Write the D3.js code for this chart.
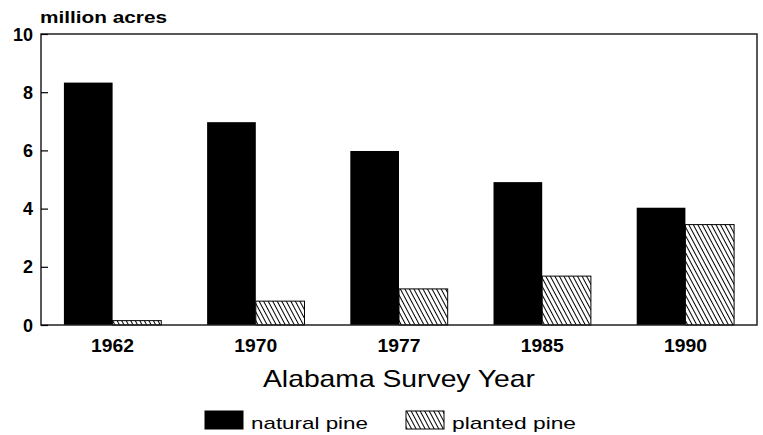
<!DOCTYPE html>
<html>
<head>
<meta charset="utf-8">
<script src="https://cdn.jsdelivr.net/npm/d3@7"></script>
<style>
  body { margin: 0; background: #fff; overflow: hidden; }
  svg { display: block; }
  text { font-family: "Liberation Sans", Arial, sans-serif; fill: #000; }
</style>
</head>
<body>
<script>
// data
var years = ["1962", "1970", "1977", "1985", "1990"];
var naturalPine = [8.33, 6.97, 5.98, 4.91, 4.03];
var plantedPine = [0.15, 0.82, 1.24, 1.68, 3.45];
var yTicks = [0, 2, 4, 6, 8, 10];
var seriesNames = ["natural pine", "planted pine"];

var chartW = 763, chartH = 435;
var plotLeft = 41, plotRight = 757, plotTop = 34, plotBottom = 325;

var svg = d3.select("body").append("svg")
    .attr("width", chartW)
    .attr("height", chartH);

// hatch pattern for planted pine
var defs = svg.append("defs");
var pat = defs.append("pattern")
    .attr("id", "hatch")
    .attr("patternUnits", "userSpaceOnUse")
    .attr("width", 4)
    .attr("height", 4)
    .attr("patternTransform", "rotate(-28)");
pat.append("rect").attr("width", 4).attr("height", 4).attr("fill", "#fff");
pat.append("line")
    .attr("x1", 0).attr("y1", 0).attr("x2", 0).attr("y2", 4)
    .attr("stroke", "#000").attr("stroke-width", 2);

var x = d3.scaleBand()
    .domain(years)
    .range([plotLeft, plotRight])
    .paddingInner(0.32)
    .paddingOuter(0.16);

var xSub = d3.scaleBand()
    .domain(seriesNames)
    .range([0, x.bandwidth()]);

var y = d3.scaleLinear()
    .domain([0, 10])
    .range([plotBottom, plotTop]);

// bars
var groups = svg.selectAll("g.year")
    .data(years)
    .enter().append("g")
    .attr("class", "year")
    .attr("transform", function(d) { return "translate(" + x(d) + ",0)"; });

groups.append("rect")
    .attr("x", xSub("natural pine"))
    .attr("y", function(d, i) { return y(naturalPine[i]); })
    .attr("width", xSub.bandwidth())
    .attr("height", function(d, i) { return y(0) - y(naturalPine[i]); })
    .attr("fill", "#000");

groups.append("rect")
    .attr("x", xSub("planted pine"))
    .attr("y", function(d, i) { return y(plantedPine[i]); })
    .attr("width", xSub.bandwidth())
    .attr("height", function(d, i) { return y(0) - y(plantedPine[i]); })
    .attr("fill", "url(#hatch)")
    .attr("stroke", "#000")
    .attr("stroke-width", 1);

// frame
svg.append("path")
    .attr("d", "M" + plotLeft + "," + plotBottom + "V" + plotTop + "H" + plotRight + "V" + plotBottom + "Z")
    .attr("fill", "none")
    .attr("stroke", "#222")
    .attr("stroke-width", 1.5);

// y axis (ticks point inward)
var yAxis = svg.append("g")
    .attr("transform", "translate(" + plotLeft + ",0)")
    .call(d3.axisRight(y).tickValues(yTicks).tickSize(7).tickFormat(""));
yAxis.select(".domain").remove();
yAxis.selectAll("line").attr("stroke", "#000").attr("stroke-width", 1.2);

svg.selectAll("text.ylab")
    .data(yTicks)
    .enter().append("text")
    .attr("class", "ylab")
    .attr("x", 33)
    .attr("y", function(d) { return y(d) + 6.5; })
    .attr("text-anchor", "end")
    .style("font-size", "18px")
    .style("font-weight", "bold")
    .text(function(d) { return d; });

// x axis labels
var xAxis = svg.append("g")
    .attr("transform", "translate(0," + plotBottom + ")")
    .call(d3.axisBottom(x).tickSize(0).tickPadding(14));
xAxis.select(".domain").remove();
xAxis.selectAll("text")
    .attr("dy", "0.71em")
    .attr("textLength", 43)
    .attr("lengthAdjust", "spacingAndGlyphs")
    .style("font-family", "'Liberation Sans', Arial, sans-serif")
    .style("font-size", "19px")
    .style("font-weight", "bold");

svg.append("text")
    .attr("x", 40)
    .attr("y", 23)
    .attr("textLength", 127)
    .attr("lengthAdjust", "spacingAndGlyphs")
    .style("font-size", "16px")
    .style("font-weight", "bold")
    .text("million acres");

svg.append("text")
    .attr("x", 263)
    .attr("y", 387)
    .attr("textLength", 272)
    .attr("lengthAdjust", "spacingAndGlyphs")
    .style("font-size", "24px")
    .text("Alabama Survey Year");

// legend
var legendX = [205, 406];
var legendTextLen = [117, 124];
var legend = svg.selectAll("g.legend")
    .data(seriesNames)
    .enter().append("g")
    .attr("class", "legend")
    .attr("transform", function(d, i) { return "translate(" + legendX[i] + ",411)"; });

legend.append("rect")
    .attr("width", 38)
    .attr("height", 18)
    .attr("fill", function(d, i) { return i === 0 ? "#000" : "url(#hatch)"; })
    .attr("stroke", "#000")
    .attr("stroke-width", 1);

legend.append("text")
    .attr("x", 46)
    .attr("y", 18)
    .attr("textLength", function(d, i) { return legendTextLen[i]; })
    .attr("lengthAdjust", "spacingAndGlyphs")
    .style("font-size", "17px")
    .text(function(d) { return d; });
</script>
</body>
</html>
